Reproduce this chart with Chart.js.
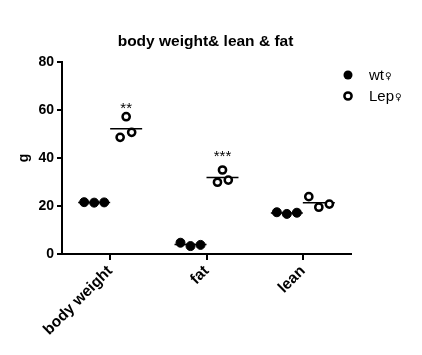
<!DOCTYPE html>
<html>
<head>
<meta charset="utf-8">
<script src="https://cdn.jsdelivr.net/npm/chart.js@4"></script>
<style>
html,body{margin:0;padding:0;background:#fff;}
#wrap{width:422px;height:355px;position:relative;}
</style>
</head>
<body>
<div id="wrap"><canvas id="c"></canvas></div>
<script>
// ---- data ----
const chartTitle = 'body weight& lean & fat';
const yTitle = 'g';
const categories = ['body weight', 'fat', 'lean'];
const seriesNames = ['wt\u2640', 'Lep\u2640'];
const wtValues = [
  [21.6, 21.4, 21.5],
  [4.7, 3.3, 3.8],
  [17.4, 16.7, 17.2]
];
const lepValues = [
  [48.6, 57.2, 50.7],
  [29.9, 35.0, 30.8],
  [23.9, 19.5, 20.8]
];
const sigLabels = ['**', '***', ''];
const yTicks = [0, 20, 40, 60, 80];

// ---- layout helpers (not data) ----
const groupOffset = 0.166;
const dotStep = 0.104;
const meanHalf = 0.166;
const jitterWt = [[-1, 0, 1], [-1, 0, 1], [-1, 0, 1]];
const jitterLep = [[-0.6, 0, 0.55], [-0.5, 0, 0.58], [-1, 0, 1.05]];

function mean(a){ return a.reduce((s,v)=>s+v,0)/a.length; }

function points(values, side, jitter){
  const out = [];
  values.forEach((grp, i) => {
    grp.forEach((v, j) => out.push({x: i + 1 + side*groupOffset + jitter[i][j]*dotStep, y: v}));
  });
  return out;
}
function meanSegs(values, side){
  const out = [];
  values.forEach((grp, i) => {
    const c = i + 1 + side*groupOffset, m = mean(grp);
    out.push({x: c - meanHalf, y: m}, {x: c + meanHalf, y: m}, {x: c + meanHalf + 0.01, y: null});
  });
  return out;
}

const FONT = '"Liberation Sans", Arial, Helvetica, sans-serif';

const overlay = {
  id: 'overlay',
  afterDraw(chart){
    const ctx = chart.ctx, ca = chart.chartArea;
    const xs = chart.scales.x, ys = chart.scales.y;
    ctx.save();
    // title
    ctx.fillStyle = '#000';
    ctx.font = 'bold 15.5px ' + FONT;
    ctx.textAlign = 'center';
    ctx.textBaseline = 'middle';
    ctx.fillText(chartTitle, (ca.left + ca.right)/2 - 1, 42);
    // significance
    ctx.font = '15px ' + FONT;
    ctx.textBaseline = 'alphabetic';
    sigLabels.forEach((s, i) => {
      if (!s) return;
      const x = xs.getPixelForValue(i + 1 + groupOffset);
      const y = ys.getPixelForValue(mean(lepValues[i])) - 16;
      ctx.fillText(s, x, y);
    });
    // legend
    const lx = ca.right - 3;
    const rows = [75, 96];
    rows.forEach((ry, k) => {
      ctx.beginPath();
      if (k === 0) {
        ctx.arc(lx, ry, 4.5, 0, Math.PI*2);
        ctx.fillStyle = '#000';
        ctx.fill();
      } else {
        ctx.arc(lx, ry, 3.6, 0, Math.PI*2);
        ctx.fillStyle = '#fff';
        ctx.fill();
        ctx.lineWidth = 2.5;
        ctx.strokeStyle = '#000';
        ctx.stroke();
      }
      const name = seriesNames[k];
      const base = name.replace('\u2640', '');
      ctx.fillStyle = '#000';
      ctx.textAlign = 'left';
      ctx.textBaseline = 'middle';
      ctx.font = '15px ' + FONT;
      ctx.fillText(base, lx + 21, ry + 1);
      const w = ctx.measureText(base).width;
      ctx.font = '9px "DejaVu Sans", sans-serif';
      ctx.fillText('\u2640', lx + 22 + w, ry + 2);
    });
    ctx.restore();
  }
};

new Chart(document.getElementById('c'), {
  type: 'scatter',
  data: {
    datasets: [
      {
        label: seriesNames[0],
        data: points(wtValues, -1, jitterWt),
        pointStyle: 'circle', pointRadius: 4.5, pointBorderWidth: 1,
        backgroundColor: '#000', borderColor: '#000', order: 1
      },
      {
        label: seriesNames[1],
        data: points(lepValues, 1, jitterLep),
        pointStyle: 'circle', pointRadius: 3.6, pointBorderWidth: 2.5,
        backgroundColor: '#fff', borderColor: '#000', order: 1
      },
      {
        type: 'line', label: 'wt mean',
        data: meanSegs(wtValues, -1),
        borderColor: '#000', borderWidth: 1.5, pointRadius: 0, spanGaps: false, showLine: true, order: 3
      },
      {
        type: 'line', label: 'Lep mean',
        data: meanSegs(lepValues, 1),
        borderColor: '#000', borderWidth: 1.5, pointRadius: 0, spanGaps: false, showLine: true, order: 3
      }
    ]
  },
  options: {
    responsive: true,
    maintainAspectRatio: false,
    animation: false,
    layout: { padding: { top: 62, right: 71, left: 0, bottom: 0 } },
    plugins: { legend: { display: false }, tooltip: { enabled: false }, title: { display: false } },
    scales: {
      x: {
        type: 'linear', min: 0.5, max: 3.5,
        afterBuildTicks(s){ s.ticks = categories.map((c, i) => ({value: i + 1})); },
        afterFit(s){ s.height = 101; s.paddingLeft = 0; s.paddingRight = 0; },
        ticks: {
          autoSkip: false, minRotation: 45, maxRotation: 45, padding: 2,
          color: '#000', font: { family: FONT, size: 15.5, weight: 'bold' },
          callback: (v) => categories[Math.round(v) - 1]
        },
        grid: { display: true, drawOnChartArea: false, drawTicks: true, tickLength: 6, color: '#000', lineWidth: 2 },
        border: { display: true, color: '#000', width: 2 }
      },
      y: {
        min: 0, max: 80,
        afterBuildTicks(s){ s.ticks = yTicks.map(v => ({value: v})); },
        afterFit(s){ s.width = 62; s.paddingTop = 0; s.paddingBottom = 0; },
        ticks: { padding: 3, color: '#000', font: { family: FONT, size: 14, weight: 'bold' } },
        grid: { display: true, drawOnChartArea: false, drawTicks: true, tickLength: 5, color: '#000', lineWidth: 2 },
        border: { display: true, color: '#000', width: 2 },
        title: { display: true, text: yTitle, color: '#000', padding: { top: 16, bottom: 0 },
                 font: { family: FONT, size: 14, weight: 'bold' } }
      }
    }
  },
  plugins: [overlay]
});
</script>
</body>
</html>
